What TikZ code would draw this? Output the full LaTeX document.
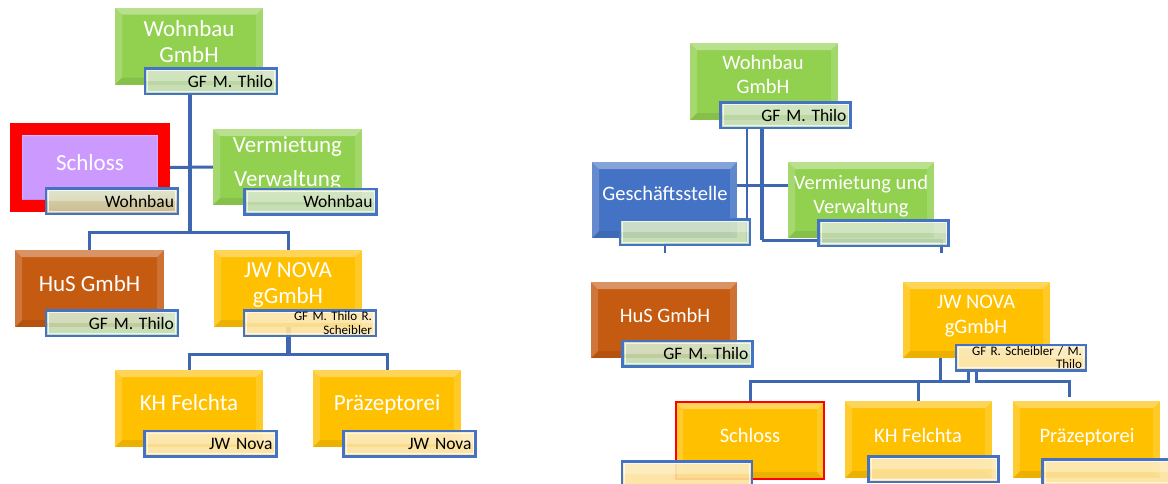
\documentclass[tikz,border=0pt]{standalone}
\usepackage{fontspec}
\setmainfont{Carlito}
\usetikzlibrary{backgrounds}
\definecolor{cgreen}{HTML}{92D050}
\definecolor{corange}{HTML}{C55A11}
\definecolor{cgold}{HTML}{FFC000}
\definecolor{cpurple}{HTML}{CC99FF}
\definecolor{cblue}{HTML}{4472C4}
\definecolor{cline}{HTML}{3F67B1}
\definecolor{clgreen}{HTML}{C2DAAE}
\definecolor{clyellow}{HTML}{FCE29C}
\definecolor{cred}{HTML}{FF0000}
\definecolor{ctanA}{HTML}{D3DDB8}
\definecolor{ctanB}{HTML}{CDB98C}
\tikzset{
  bevel/.style={path picture={
    \fill[white,opacity=.35] (path picture bounding box.north west) -- (path picture bounding box.north east) -- ([shift={(-7pt,-7pt)}]path picture bounding box.north east) -- ([shift={(7pt,-7pt)}]path picture bounding box.north west) -- cycle;
    \fill[white,opacity=.18] (path picture bounding box.north west) -- ([shift={(7pt,-7pt)}]path picture bounding box.north west) -- ([shift={(7pt,7pt)}]path picture bounding box.south west) -- (path picture bounding box.south west) -- cycle;
    \fill[black,opacity=.08] (path picture bounding box.south west) -- ([shift={(7pt,7pt)}]path picture bounding box.south west) -- ([shift={(-7pt,7pt)}]path picture bounding box.south east) -- (path picture bounding box.south east) -- cycle;
    \fill[white,opacity=.15] (path picture bounding box.north east) -- ([shift={(-7pt,-7pt)}]path picture bounding box.north east) -- ([shift={(-7pt,7pt)}]path picture bounding box.south east) -- (path picture bounding box.south east) -- cycle;
  }},
  box/.style={fill=#1, inner sep=0pt, minimum width=148pt, minimum height=77pt, bevel},
  labshine/.style={path picture={
    \fill[white,opacity=.3] (path picture bounding box.north west) rectangle (path picture bounding box.east);
    \draw[white,opacity=.7,line width=1pt] ([shift={(2.5pt,-2.5pt)}]path picture bounding box.north west) rectangle ([shift={(-2.5pt,2.5pt)}]path picture bounding box.south east);
  }},
  lab/.style={draw=cblue, line width=2.5pt, fill=#1, fill opacity=.9, text opacity=1,
    minimum height=25.5pt, text width=124pt, inner xsep=4pt, inner ysep=0pt, align=right,
    font=\fontsize{17.5}{20}\selectfont, text=black, labshine},
  small/.style={font=\fontsize{13}{13.5}\selectfont},
  ttl/.style={text=white, align=center, inner sep=0pt, anchor=base, font=\fontsize{23}{26}\selectfont},
  rttl/.style={ttl, font=\fontsize{20.5}{23.5}\selectfont},
  conn/.style={draw=cline, line width=3pt},
}
\begin{document}
\begin{tikzpicture}[x=1pt,y=-1pt]
\useasboundingbox (0,0) rectangle (1168,483);
\clip (0,0) rectangle (1168,483);
% ---------------- left chart ----------------
\node[box=cgreen] (L1) at (189,46) {};
\node[box=cpurple, draw=cred, line width=12pt] (Lsch) at (90,167.5) {};
\node[box=cgreen, minimum width=149pt, minimum height=76pt] (Lverm) at (287.5,167) {};
\node[box=corange, minimum width=149pt] (Lhus) at (89.5,288.5) {};
\node[box=cgold] (Ljn) at (288,288.5) {};
\node[box=cgold] (Lkh) at (189,408.5) {};
\node[box=cgold] (Lpr) at (387,408.5) {};

% multi-line titles are placed by the baseline of their last line
\node[ttl] (L1t) at (189,62) {Wohnbau\\GmbH};
\node[ttl] (Lscht) at (90,170) {Schloss};
\begin{scope}
\clip (213,129) rectangle (362,186);
\node[ttl, font=\fontsize{23}{34}\selectfont] (Lvt) at (287.5,186.5) {Vermietung\\Verwaltung};
\end{scope}
\node[ttl] (Lhust) at (89.5,291) {HuS GmbH};
\node[ttl] (Ljnt) at (288,303) {JW NOVA\\gGmbH};
\node[ttl] (Lkht) at (189,410) {KH Felchta};
\node[ttl] (Lprt) at (387,410) {Präzeptorei};

\node[lab=clgreen] (L1lab) at (211,81) {GF M. Thilo};
\node[lab=ctanA, top color=ctanA, bottom color=ctanB] (Lschlab) at (112,201) {Wohnbau};
\node[lab=clgreen] (Lvlab) at (310.5,201.5) {Wohnbau};
\node[lab=clgreen] (Lhuslab) at (112,323) {GF M. Thilo};
\node[lab=clyellow, small] (Ljnlab) at (310,323) {GF M. Thilo R.\\Scheibler};
\node[lab=clyellow] (Lkhlab) at (210.5,443.5) {JW Nova};
\node[lab=clyellow] (Lprlab) at (409.5,443.5) {JW Nova};

% ---------------- right chart ----------------
\node[box=cgreen] (Rw) at (764,81.5) {};
\node[box=cblue, minimum width=145pt, minimum height=76pt] (Rges) at (664.5,200) {};
\node[box=cgreen, minimum width=146pt, minimum height=76pt] (Rverm) at (861,200) {};
\node[box=corange, minimum width=146pt, minimum height=76pt] (Rhus) at (664,320) {};
\node[box=cgold, minimum width=147pt, minimum height=76pt] (Rjn) at (976.5,320) {};
\node[box=cgold, draw=cred, line width=2pt, minimum height=77pt] (Rsch) at (750,440.5) {};
\node[box=cgold, minimum width=147pt] (Rkh) at (918.5,439.5) {};
\node[box=cgold, minimum width=147pt] (Rpr) at (1086.5,439.5) {};

\node[rttl] (Rwt) at (763,93) {Wohnbau\\GmbH};
\node[rttl] (Rgest) at (665,200) {Geschäftsstelle};
\begin{scope}
\clip (788,162) rectangle (932,238);
\node[rttl, font=\fontsize{20.5}{24}\selectfont] (Rvt) at (861,213) {Vermietung und\\Verwaltung};
\end{scope}
\node[rttl] (Rhust) at (665,322) {HuS GmbH};
\node[rttl, font=\fontsize{20.5}{25}\selectfont] (Rjnt) at (976,333) {JW NOVA\\gGmbH};
\node[rttl] (Rscht) at (750,442) {Schloss};
\node[rttl] (Rkht) at (918,442) {KH Felchta};
\node[rttl] (Rprt) at (1087,442) {Präzeptorei};

\node[lab=clgreen, text width=122pt] (Rwlab) at (785.5,115) {GF M. Thilo};
\node[lab=clgreen, text width=122pt] (Rgeslab) at (685,232) {};
\node[lab=clgreen, text width=122pt] (Rvlab) at (883.5,233) {};
\node[lab=clgreen, text width=122pt] (Rhuslab) at (687.5,353.5) {GF M. Thilo};
\node[lab=clyellow, small, text width=122pt] (Rjnlab) at (1021,357.5) {GF R. Scheibler / M.\\Thilo};
\node[lab=clyellow, text width=122pt] (Rschlab) at (687,474) {};
\node[lab=clyellow, text width=122pt] (Rkhlab) at (933.5,469) {};
\node[lab=clyellow, text width=122pt] (Rprlab) at (1107.5,472) {};

% ---------------- connectors ----------------
\begin{scope}[on background layer]
\coordinate (Lj) at (190,232);
\coordinate (Lj2) at (288,354);
\draw[conn, line width=4pt] (L1lab.south -| Lj) -- (Lj);
\draw[conn] (Lsch.east) -- (Lverm.west);
\draw[conn] (Lhus.north) |- (Ljn.north |- Lj) -- (Ljn.north);
\draw[conn, line width=5pt] (Ljn.south) -- (Lj2);
\draw[conn] (Lkh.north) |- (Lpr.north |- Lj2) -- (Lpr.north);

\coordinate (Ra) at (747,244);
\coordinate (Rb) at (665,253);
\coordinate (Rc) at (762,240);
\coordinate (Rd) at (941,253);
\coordinate (Rh) at (760,185);
\draw[conn, line width=2.2pt] (Rwlab.south -| Ra) -- (Ra) -| (Rb);
\draw[conn, line width=4.5pt] (Rwlab.south -| Rc) -- (Rc);
\draw[conn] (Rc) -| (Rd);
\draw[conn] (Rges.east |- Rh) -- (Rverm.west |- Rh);

\coordinate (Rk) at (940,381);
\coordinate (Rm) at (968,381);
\coordinate (Rn) at (976,381);
\coordinate (Rp) at (1069,397);
\draw[conn] (Rjn.south -| Rk) -- (Rk);
\draw[conn] (Rsch.north) |- (Rm) -- (Rjnlab.south -| Rm);
\draw[conn] (Rkh.north) -- (Rkh.north |- Rk);
\draw[conn] (Rjnlab.south -| Rn) -- (Rn) -| (Rp);
\end{scope}
\end{tikzpicture}
\end{document}
